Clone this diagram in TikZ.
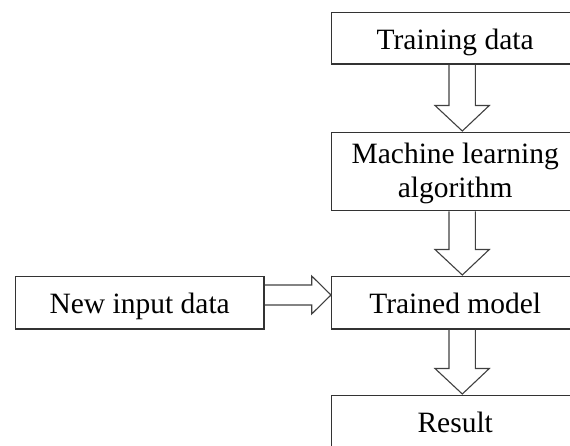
\documentclass[tikz,border=0pt]{standalone}
\usepackage{fontspec}
\setmainfont{Liberation Serif}
\usetikzlibrary{calc}
\tikzset{
  box/.style={draw=black!80, line width=1.4pt, rectangle, inner sep=0pt,
    minimum width=247pt, minimum height=52.3pt, anchor=north west,
    font=\fontsize{29.5}{34}\selectfont},
  oneline/.style={text height=21pt, text depth=0pt},
  fat/.style={draw=black!75, line width=1.1pt, line join=miter},
}
\newcommand{\vfat}[2]{%
  \draw[fat] ($(#1.south west)+(118,0)$) -- ($(#2.north west)+(118,-26.5)$)
    -- ($(#2.north west)+(104,-26.5)$) -- ($(#2.north west)+(131.3,-1)$)
    -- ($(#2.north west)+(158.3,-26.5)$) -- ($(#2.north west)+(144.3,-26.5)$)
    -- ($(#1.south west)+(144.3,0)$);}
\begin{document}
\begin{tikzpicture}[x=1pt,y=-1pt]
\useasboundingbox (0,0) rectangle (570,446);
\clip (0,0) rectangle (570,446);
\node[box, oneline, minimum height=51.6pt, text height=23.6pt] (td) at (331,11.7) {Training data};
\node[box, minimum height=78pt, align=center, text height=51pt, text depth=0pt] (ml) at (331,132) {Machine learning\\algorithm};
\node[box, oneline] (tm) at (331,276) {Trained model};
\node[box, oneline] (rs) at (331,395) {Result};
\node[box, oneline, minimum width=248.6pt] (ni) at (14.7,276) {New input data};
\vfat{td}{ml}
\vfat{ml}{tm}
\vfat{tm}{rs}
\draw[fat] ($(ni.north east)+(0,9)$) -- ($(tm.north west)+(-19.3,9)$)
  -- ($(tm.north west)+(-19.3,0)$) -- ($(tm.north west)+(0,19)$)
  -- ($(tm.north west)+(-19.3,38)$) -- ($(tm.north west)+(-19.3,29)$)
  -- ($(ni.north east)+(0,29)$);
\end{tikzpicture}
\end{document}
